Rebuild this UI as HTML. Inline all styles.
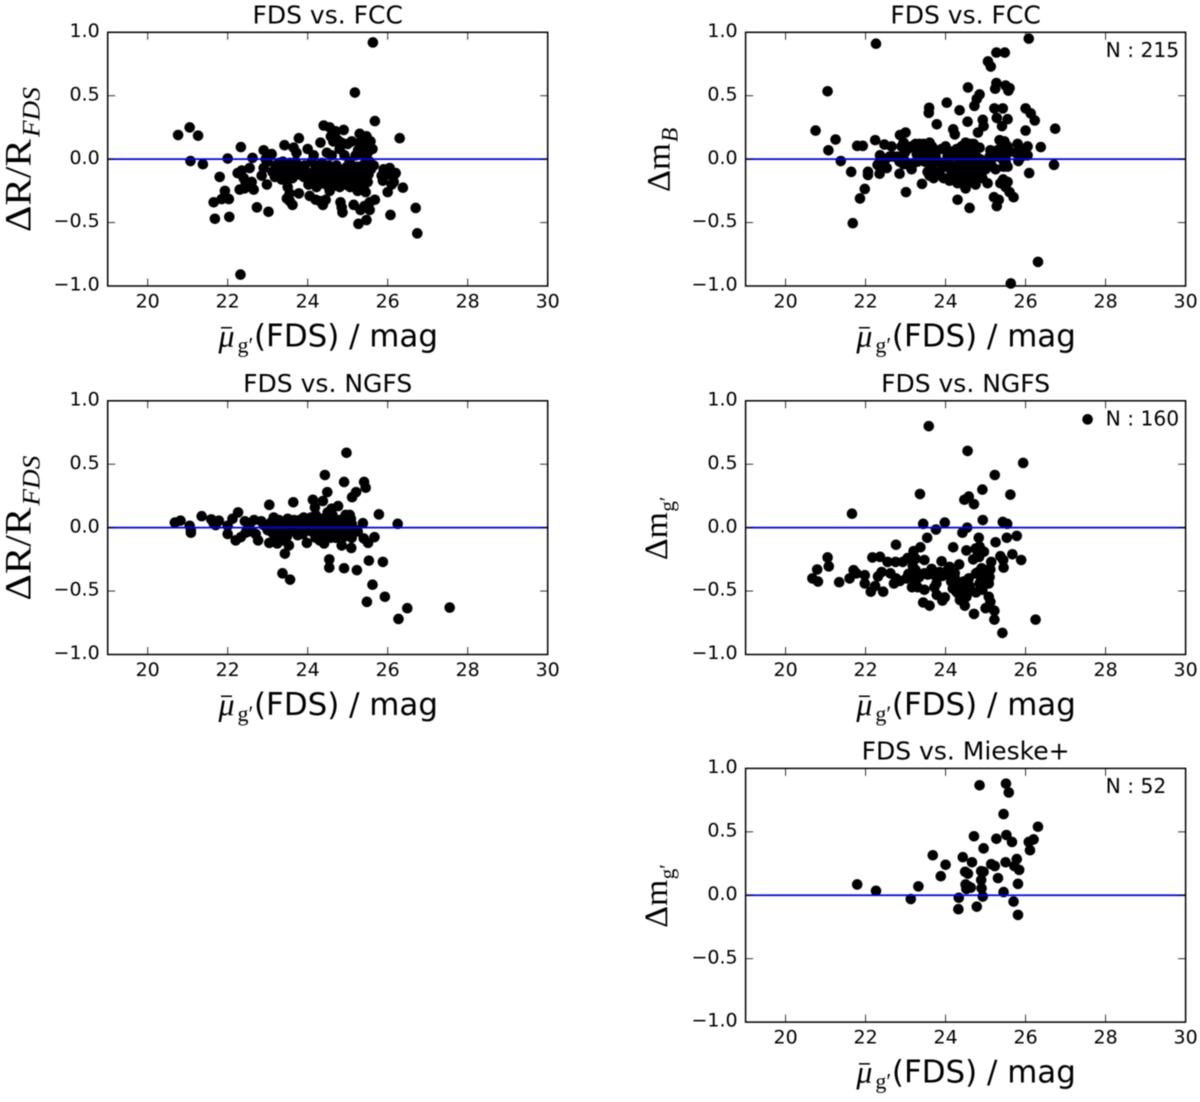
<!DOCTYPE html>
<html>
<head>
<meta charset="utf-8">
<title>FDS comparison scatter panels</title>
<style>
html,body{margin:0;padding:0;background:#fff;width:1200px;height:1102px;overflow:hidden}
svg{display:block;filter:blur(0.4px)}
text{fill:#000;font-family:"DejaVu Sans",sans-serif}
.serif{font-family:"Liberation Serif",serif}
</style>
</head>
<body>
<svg id="figure" xmlns="http://www.w3.org/2000/svg" width="1200" height="1102" viewBox="0 0 1200 1102"></svg>
<script>
const xTicks = [20, 22, 24, 26, 28, 30];
const yTicks = [-1, -0.5, 0, 0.5, 1];
const xTickLabels = ["20", "22", "24", "26", "28", "30"];
const yTickLabels = ["\u22121.0", "\u22120.5", "0.0", "0.5", "1.0"];
const xDomain = [19, 30];
const yDomain = [-1, 1];
const referenceLevel = 0;

const radiusFcc = [
[25.63,.92],[25.18,.525],[25.68,.30],[20.76,.19],[21.05,.25],[21.26,.185],[21.07,-.015],[21.38,-.04],[22.0,.005],[22.33,.095],
[21.8,-.14],[21.65,-.34],[21.68,-.47],[22.04,-.455],[21.93,-.25],[21.85,-.315],[22.03,-.315],[22.32,-.91],[22.73,-.38],[23.02,-.415],
[26.7,-.385],[26.74,-.585],[26.07,-.44],[26.3,.165],[26.38,-.225],
[22.25,-.11],[22.35,-.09],[22.4,-.15],[22.45,-.19],[22.3,-.24],[22.42,-.23],[22.55,-.07],[22.6,-.18],[22.65,-.24],[22.62,.01],
[22.9,-.07],[22.9,.07],[22.95,0],[22.98,-.2],[23.1,.04],[22.85,-.13],[23.0,-.02],
[23.2,-.05],[23.25,-.08],[23.3,-.12],[23.35,-.16],[23.28,-.03],[23.4,-.1],[23.42,.11],[23.38,-.02],[23.45,-.06],[23.5,-.13],[23.55,-.03],[23.58,-.09],[23.62,-.15],[23.5,-.22],[23.55,-.27],[23.48,-.31],[23.55,-.33],[23.62,-.36],[23.65,.09],[23.72,.05],[23.7,-.02],[23.78,.165],[23.78,-.27],[23.8,-.06],[23.75,-.12],[23.85,-.1],[23.9,-.14],
[24.0,.08],[24.02,-.2],[24.05,-.29],[24.05,-.12],[24.1,-.02],[24.15,.03],[24.2,-.07],[24.22,-.22],[24.2,-.32],[24.3,-.33],[24.32,.13],[24.3,-.12],[24.35,-.03],[24.38,-.36],[24.4,.265],[24.42,-.09],[24.45,-.32],[24.48,.05],[24.5,-.15],[24.5,-.1],[24.55,.25],[24.55,-.25],[24.6,.03],[24.58,-.18],[24.62,-.08],[24.65,-.12],[24.68,.2],[24.7,.22],[24.72,-.05],[24.75,.15],[24.75,-.17],[24.78,-.08],[24.8,.08],[24.8,-.22],[24.82,-.34],[24.85,-.38],[24.87,-.42],[24.9,.23],[24.92,.03],[24.92,-.1],[24.95,-.2],
[25.0,.12],[25.0,-.12],[25.05,-.02],[25.08,-.17],[25.1,.14],[25.12,-.1],[25.15,-.36],[25.18,-.2],[25.2,.03],[25.25,-.25],[25.28,-.13],[25.3,.2],[25.32,-.4],[25.35,.1],[25.38,-.05],[25.4,-.13],[25.4,.04],[25.42,-.37],[25.45,-.26],[25.47,.18],[25.5,.12],[25.48,-.07],[25.52,.08],[25.5,-.18],[25.55,-.02],[25.55,-.4],[25.58,-.08],[25.62,.08],[25.65,-.05],[25.68,-.32],[25.55,-.34],[25.47,-.48],[25.27,-.51],
[25.9,-.08],[25.85,-.13],[25.88,-.17],[25.95,-.1],[26.0,-.26],[26.05,-.07],[26.1,-.2],[26.15,-.13],[26.2,-.11],[26.05,-.12],[26.15,-.18],
[23.12,-.1],[23.18,-.14],[23.32,-.07],[23.44,-.15],[23.66,-.06],[23.92,-.05],[23.97,-.1],[24.12,-.14],[24.18,-.11],[24.26,-.17],[24.34,-.19],[24.4,-.15],[24.46,-.2],[24.52,-.05],[24.56,-.13],[24.66,-.21],[24.7,-.15],[24.74,-.1],[24.86,-.13],[24.88,-.18],[24.98,-.06],[25.02,-.16],[25.06,-.22],[25.14,-.06],[25.22,-.12],[25.24,-.06],[25.32,-.18],[25.35,-.09],[25.42,-.2],[25.44,-.03],[25.52,-.12],[24.58,.18],[24.64,.14],[24.84,.13],[25.26,.07],[25.4,.16],[25.42,.09],[25.5,.05],[25.57,.14],[25.3,.13]
];

const magnitudeFcc = [
[22.26,.91],[26.08,.95],[25.27,.84],[25.48,.84],[25.06,.77],[25.13,.73],[21.05,.535],[24.56,.565],[25.27,.6],[25.24,.555],[25.5,.58],[25.6,.56],[25.57,.54],
[24.85,.51],[24.78,.475],[24.72,.42],[24.03,.445],[23.59,.405],[23.58,.365],[24.35,.385],[25.22,.4],[25.43,.4],[26.0,.4],[26.13,.36],[26.23,.305],
[25.28,.325],[25.55,.315],[24.93,.31],[24.55,.295],[23.78,.275],[25.41,.26],[24.95,.26],[24.81,.21],[24.19,.235],[24.23,.195],
[20.75,.225],[26.74,.24],[26.0,.225],[23.0,.21],[22.86,.19],[21.25,.155],[21.07,.07],[21.38,-.015],[22.24,.15],[21.79,.105],[21.93,.105],
[22.47,.115],[22.65,.1],[22.36,.03],[21.64,-.1],[22.06,-.1],[22.06,-.125],[22.35,-.115],[22.53,-.07],[22.85,-.115],[22.3,-.045],
[21.98,-.235],[21.86,-.31],[21.68,-.505],[23.01,-.26],[23.41,-.195],[24.3,-.32],[24.6,-.385],[25.63,-.98],[26.31,-.81],
[26.71,-.045],[26.09,-.11],[26.38,.095],[26.05,.1],[26.05,.03],[25.82,-.015],
[25.28,-.37],[25.21,-.3],[25.33,-.32],[25.7,-.3],[25.6,-.26],[25.5,-.22],[25.55,-.18],[25.37,-.19],[25.05,-.19],[25.44,-.16],
[23.15,.1],[23.25,.12],[23.35,.12],[23.45,.12],[23.55,.1],[23.6,.13],[23.1,-.05],[23.15,-.08],[23.3,-.02],[23.4,.04],[23.5,.02],[23.55,-.1],[23.6,-.13],[23.7,-.15],[23.7,.08],[23.75,.02],[23.8,-.02],[23.85,-.1],[23.9,.08],[23.95,-.15],[23.9,-.03],
[24,.1],[24,-.06],[24.05,.02],[24.1,-.17],[24.15,-.05],[24.2,.03],[24.25,-.1],[24.3,.02],[24.3,-.19],[24.35,-.03],[24.4,.1],[24.4,-.13],[24.45,.04],[24.45,-.2],[24.5,-.08],[24.5,.13],[24.5,-.23],[24.55,0],[24.6,.08],[24.6,-.12],[24.65,-.03],[24.65,-.18],[24.7,.12],[24.7,-.08],[24.75,-.2],[24.75,.03],[24.8,-.05],[24.8,-.14],[24.85,.09],[24.9,-.1],[24.95,-.02],
[25.0,-.08],[25.1,.02],[25.15,-.05],[25.2,.04],[25.25,-.08],[25.3,.07],[25.35,.15],[25.4,.1],[25.45,-.06],[25.5,.02],[25.55,.1],[25.55,-.06],[25.6,.06],[25.75,.05],[25.8,.12],[25.85,.08],[25.9,.02],[25.95,.05],
[22.9,.1],[22.85,-.02],[23,-.02],[22.95,-.04],[22.5,0],[22.6,.02],[22.7,.02],[22.8,.02],[22.4,-.01],
[23.42,.07],[23.48,-.02],[23.52,.07],[23.6,.03],[23.64,-.05],[23.66,.1],[23.72,-.1],[24.12,.06],[24.15,-.1],[24.22,-.14],[24.28,.08],[24.38,.06],[24.42,-.06],[24.48,-.16],[24.52,.07],[24.56,-.05],[24.58,-.17],[24.62,.12],[24.66,.03],[24.68,-.13],[24.72,-.02],[24.76,-.11],[24.78,.09],[24.84,-.08],[24.86,0],[24.92,-.15],[25.02,-.03],[25.12,.07],[25.24,.02],[25.34,.03],[25.38,.08],[25.42,0],[25.47,.14],[25.5,-.02],[25.52,.06],[23.2,-.03],[23.28,.04],[22.98,.05],[23.05,.08],[22.95,.13]
];

const radiusNgfs = [
[24.97,.59],[24.43,.415],[24.91,.36],[25.41,.36],[25.45,.315],[25.21,.28],[25.11,.24],[24.49,.28],[24.13,.22],[24.38,.21],[24.18,.16],[24.76,.17],[23.64,.2],[23.04,.18],
[25.78,.105],[26.25,.03],[21.35,.09],[22.26,.12],[22.12,.07],[21.59,.065],[21.65,.035],[21.78,.055],[21.7,.02],[20.68,.04],[20.82,.055],[21.05,.015],[21.08,-.02],[21.08,-.04],[22,.015],[22,-.05],[22.2,-.1],[22.33,-.075],[22.43,.05],[22.66,.06],[22.84,.05],[22.76,-.1],[22.7,-.05],[22.48,-.02],
[23.04,-.12],[23.24,-.125],[23.15,.08],[23.53,-.14],[23.43,-.205],[23.37,-.36],[23.56,-.41],[23.98,-.12],[24.41,-.125],[24.54,-.25],[24.54,-.315],[24.91,-.32],[25.23,-.335],[25.09,-.16],[24.85,-.14],[25.53,-.26],[25.88,-.27],[25.62,-.45],[25.93,-.545],[25.48,-.585],[26.49,-.635],[26.27,-.72],[27.55,-.63],
[25.67,-.075],[25.51,-.12],[25.4,-.085],[25.38,.035],[25.1,-.08],
[23.2,.03],[23.3,-.02],[23.35,.04],[23.45,.02],[23.5,.07],[23.55,-.03],[23.6,.05],[23.7,.02],[23.75,-.06],[23.8,.06],[23.85,-.02],[23.9,.08],[23.95,.02],[24,.06],[24.1,-.03],[24.15,.04],[24.2,-.08],[24.2,.1],[24.25,0],[24.3,-.1],[24.35,.04],[24.4,-.03],[24.45,.08],[24.5,.12],[24.5,-.06],[24.55,.02],[24.6,.15],[24.6,-.02],[24.65,.07],[24.7,-.08],[24.75,.02],[24.8,.06],[24.8,-.05],[24.9,0],[24.95,.1],[25,.04],[25,-.03],[25.05,.1],[25.1,.03],[25.2,-.02],[25.25,-.03],[23.25,-.08],[23.4,-.1],[23.6,-.02],[22.9,.02],[23,-.02],[22.6,-.03],[22.55,.03],[22.45,-.04],
[23.08,.04],[23.12,-.04],[23.18,-.07],[23.28,.06],[23.42,-.04],[23.48,-.07],[23.58,.03],[23.66,.06],[23.72,-.02],[23.82,.01],[23.88,-.05],[24.02,.01],[24.08,.08],[24.22,.04],[24.28,-.05],[24.32,.07],[24.42,.02],[24.48,-.02],[24.52,.07],[24.58,-.08],[24.62,.1],[24.68,-.03],[24.72,.05],[24.78,-.03],[24.88,.05],[24.92,-.07],[24.98,.01],[25.02,-.06],[25.08,.07]
];

const magnitudeNgfs = [
[27.55,.854],[23.58,.8],[24.55,.605],[25.94,.51],[25.23,.415],[24.92,.3],[23.36,.265],[25.62,.26],[24.47,.22],[24.58,.245],[24.71,.185],[21.66,.11],[23.44,.03],[23.98,.04],[24.93,.06],[25.43,.045],[25.54,.03],[23.76,-.015],[24.54,0],[24.42,-.04],[23.54,-.08],[24.83,-.08],[25.53,-.08],[25.78,-.065],[25.25,-.115],[22.76,-.135],[23.37,-.155],[24.19,-.155],[23.2,-.185],[24.52,-.18],[24.75,-.165],[24.85,-.15],[24.96,-.19],[25.67,-.21],[25.37,-.225],
[21.05,-.235],[21.08,-.305],[20.79,-.33],[20.67,-.4],[20.81,-.425],[21.34,-.43],
[22.17,-.235],[22.36,-.23],[22.55,-.27],[22.75,-.27],[22.93,-.27],[23.05,-.24],[23.25,-.245],[23.47,-.255],[23.9,-.265],[24.34,-.29],[24.69,-.25],[24.81,-.21],[25.14,-.27],[25.44,-.255],[25.45,-.315],[25.89,-.255],
[21.7,-.335],[21.6,-.4],[21.77,-.36],[21.98,-.375],[21.98,-.44],[22.13,-.505],[22.24,-.46],[22.44,-.505],[22.31,-.385],[22.4,-.35],[22.62,-.36],[22.71,-.44],[22.76,-.4],[22.86,-.42],[23.07,-.365],[23.16,-.47],[23.25,-.44],[23.25,-.335],[23.47,-.36],[23.47,-.49],[23.44,-.59],[23.6,-.615],[23.65,-.325],[23.77,-.44],[23.78,-.53],[23.92,-.575],[23.98,-.55],[23.85,-.35],[24.05,-.335],[24.1,-.31],[24.23,-.36],[24.14,-.425],[24.23,-.465],[24.27,-.505],[24.36,-.57],[24.48,-.615],[24.52,-.545],[24.54,-.44],[24.36,-.465],[24.45,-.425],[24.58,-.4],[24.76,-.36],[24.9,-.32],[25.03,-.335],[24.85,-.44],[25.02,-.415],[24.76,-.51],[24.92,-.49],[25.08,-.545],[25.12,-.585],[25,-.635],[25.22,-.655],[25.22,-.725],[24.71,-.68],[25.42,-.83],[26.25,-.725],[23.34,-.39],[23.02,-.4],[24.23,-.4],[24.14,-.39],[25.1,-.39],[25.08,-.44],
[23.15,-.39],[23.18,-.3],[23.28,-.38],[23.3,-.47],[23.55,-.37],[23.62,-.36],[23.7,-.37],[23.72,-.47],[23.8,-.39],[23.92,-.38],[24.0,-.36],[24.18,-.48],[24.3,-.43],[24.32,-.52],[24.42,-.5],[24.5,-.48],[24.6,-.46],[24.62,-.5],[24.82,-.35],[24.88,-.39],[24.98,-.36],[25.05,-.36],[25.0,-.44],[25.12,-.33],[24.84,-.23],[24.9,-.18]
];

const magnitudeMieske = [
[24.85,.867],[25.51,.88],[25.58,.81],[25.45,.64],[26.31,.54],[24.71,.465],[25.27,.445],[25.52,.475],[25.66,.42],[26.08,.42],[26.2,.44],[26.11,.355],[24.95,.37],[23.68,.315],[24.43,.3],[24.66,.26],[24.0,.24],[25.14,.245],[25.23,.23],[25.5,.26],[25.78,.285],[25.72,.23],[25.84,.2],[24.95,.185],[24.89,.19],[24.49,.185],[24.56,.17],[23.88,.15],[25.31,.135],[24.89,.12],[25.81,.09],[21.79,.085],[22.26,.035],[23.32,.07],[24.5,.085],[24.63,.06],[24.52,.05],[24.9,.055],[24.57,.07],[25.45,.025],[24.93,-.01],[23.13,-.03],[24.33,-.02],[25.7,-.05],[24.32,-.11],[24.78,-.09],[25.81,-.155]
];

const panels = [
  {key:"fds-fcc-radius", title:"FDS vs. FCC", points:radiusFcc, left:107.7, top:32.3, ylab:"radius", note:null},
  {key:"fds-fcc-magnitude", title:"FDS vs. FCC", points:magnitudeFcc, left:745.6, top:32.3, ylab:"mB", note:"N : 215"},
  {key:"fds-ngfs-radius", title:"FDS vs. NGFS", points:radiusNgfs, left:107.7, top:400.8, ylab:"radius", note:null},
  {key:"fds-ngfs-magnitude", title:"FDS vs. NGFS", points:magnitudeNgfs, left:745.6, top:400.8, ylab:"mg", note:"N : 160"},
  {key:"fds-mieske-magnitude", title:"FDS vs. Mieske+", points:magnitudeMieske, left:745.6, top:768.4, ylab:"mg", note:"N : 52"}
];

const W = 440, H = 253.7;
const NS = "http://www.w3.org/2000/svg";
const figure = document.getElementById("figure");

function xScale(p, v){ return p.left + (v - xDomain[0]) / (xDomain[1] - xDomain[0]) * W; }
function yScale(p, v){ return p.top + H - (v - yDomain[0]) / (yDomain[1] - yDomain[0]) * H; }

function shape(parent, tag){
  const el = document.createElementNS(NS, tag);
  parent.appendChild(el);
  return el;
}
function setAll(el, attrs){
  for (const k in attrs) el.setAttribute(k, attrs[k]);
  return el;
}
function label(parent, str, attrs){
  const el = shape(parent, "text");
  setAll(el, attrs);
  el.textContent = str;
  return el;
}

function drawXLabel(g, p){
  const base = p.top + H + 60.5;
  const x0 = p.left + 110.8;
  const mu = label(g, "\u03bc", {x:x0, y:base, "font-size":32, "font-style":"italic", class:"serif"});
  
  
  const bar = setAll(shape(g, "rect"), {x:x0 + 2.5, y:base - 19.5, width:11, height:1.5, fill:"#000"});
  
  
  const sub = label(g, "g\u2032", {x:x0 + 19, y:base + 6, "font-size":22, class:"serif"});
  
  
  const rest = label(g, "(FDS) / mag", {x:x0 + 35.5, y:base, "font-size":30.9});
  
  
}

function drawYLabel(g, p){
  const cy = p.top + H / 2;
  if (p.ylab === "radius") {
    const t = `translate(30.7,${cy + 73}) rotate(-90)`;
    const main = label(g, "\u0394R/R", {transform:t, x:0, y:0, "font-size":37, textLength:93, lengthAdjust:"spacingAndGlyphs", class:"serif"});
    
    
    const sub = label(g, "FDS", {transform:t, x:95, y:8.6, "font-size":25, "font-style":"italic", textLength:50, lengthAdjust:"spacingAndGlyphs", class:"serif"});
    
    
  } else if (p.ylab === "mB") {
    const t = `translate(${p.left - 76.3},${cy + 33}) rotate(-90)`;
    const main = label(g, "\u0394m", {transform:t, x:0, y:0, "font-size":33, textLength:49, lengthAdjust:"spacingAndGlyphs", class:"serif"});
    
    
    const sub = label(g, "B", {transform:t, x:50, y:8, "font-size":23.5, "font-style":"italic", class:"serif"});
    
    
  } else {
    const t = `translate(${p.left - 78.7},${cy + 32.5}) rotate(-90)`;
    const main = label(g, "\u0394m", {transform:t, x:0, y:0, "font-size":33, textLength:48, lengthAdjust:"spacingAndGlyphs", class:"serif"});
    
    
    const sub = label(g, "g\u2032", {transform:t, x:48.5, y:7, "font-size":21, class:"serif"});
    
    
  }
}

panels.forEach(function(p){
  const g = shape(figure, "g");
  
  

  const marks = shape(g, "g");
  
  
  p.points.forEach(function(pt){
    const c = setAll(shape(marks, "circle"), {cx:xScale(p, pt[0]), cy:yScale(p, pt[1]), r:5.3, fill:"#000"});
    
    
  });

  const zero = setAll(shape(g, "line"), {x1:p.left, x2:p.left + W, y1:yScale(p, referenceLevel), y2:yScale(p, referenceLevel), stroke:"#0000ff", "stroke-width":1.8});
  
  

  xTicks.forEach(function(v, i){
    const x = xScale(p, v);
    const tb = setAll(shape(g, "line"), {x1:x, x2:x, y1:p.top + H, y2:p.top + H - 7.5, stroke:"#000", "stroke-width":0.8});
    
    
    const tt = setAll(shape(g, "line"), {x1:x, x2:x, y1:p.top, y2:p.top + 7.5, stroke:"#000", "stroke-width":0.8});
    
    
    const lab = label(g, xTickLabels[i], {x:x, y:p.top + H + 21.3, "font-size":19, "text-anchor":"middle"});
    
    
  });

  yTicks.forEach(function(v, i){
    const y = yScale(p, v);
    const tl = setAll(shape(g, "line"), {x1:p.left, x2:p.left + 7.5, y1:y, y2:y, stroke:"#000", "stroke-width":0.8});
    
    
    const tr = setAll(shape(g, "line"), {x1:p.left + W, x2:p.left + W - 7.5, y1:y, y2:y, stroke:"#000", "stroke-width":0.8});
    
    
    const lab = label(g, yTickLabels[i], {x:p.left - 8, y:y + 4.6, "font-size":19, "text-anchor":"end"});
    
    
  });

  const frame = setAll(shape(g, "rect"), {x:p.left, y:p.top, width:W, height:H, fill:"none", stroke:"#000", "stroke-width":1.5});
  
  

  const title = label(g, p.title, {x:p.left + W / 2, y:p.top - 9, "font-size":25, "text-anchor":"middle"});
  
  

  if (p.note) {
    const note = label(g, p.note, {x:p.left + 360, y:p.top + 24.5, "font-size":20.3});
    
    
  }

  drawXLabel(g, p);
  drawYLabel(g, p);
});
</script>
</body>
</html>
